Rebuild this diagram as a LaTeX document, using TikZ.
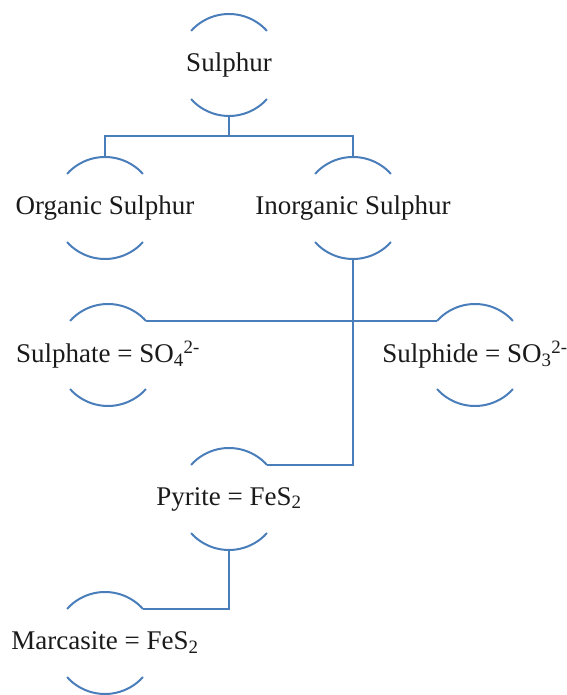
\documentclass[tikz,border=0pt]{standalone}
\usepackage{fontspec}
\setmainfont{Liberation Serif}
\usetikzlibrary{calc}
\definecolor{sulink}{HTML}{4A7EBB}
\definecolor{sutext}{HTML}{1A1A1A}

\begin{document}
\begin{tikzpicture}[
  x=1pt, y=1pt,
  font=\fontsize{27}{31}\selectfont,
  label/.style={text=sutext, inner sep=0pt, anchor=center},
  ring/.style={draw=sulink, line width=2pt},
  link/.style={draw=sulink, line width=2pt}]

%% Lienzo fijo del mismo tamaño que la referencia (en puntos).
\useasboundingbox (0,0) rectangle (566,695);

%% ---- nodos ----
\node[label] (sulphur)   at (229,630) {Sulphur};
\node[label] (organic)   at (105,487) {Organic Sulphur};
\node[label] (inorganic) at (353,487) {Inorganic Sulphur};
\node[label] (sulphate)  at (108,340) {Sulphate = SO\textsubscript{4}\textsuperscript{2-}};
\node[label] (sulphide)  at (475,340) {Sulphide = SO\textsubscript{3}\textsuperscript{2-}};
\node[label] (pyrite)    at (229,196) {Pyrite = FeS\textsubscript{2}};
\node[label] (marcasite) at (105,52)  {Marcasite = FeS\textsubscript{2}};

%% ---- arcos arriba y abajo de cada texto (radio 51) ----
\foreach \n in {sulphur,organic,inorganic,sulphate,sulphide,pyrite,marcasite} {
  \draw[ring] ($(\n)+(42:51)$) arc[start angle=42, end angle=138, radius=51];
  \draw[ring] ($(\n)+(222:51)$) arc[start angle=222, end angle=318, radius=51];
}

%% ---- conectores ----
\draw[link] ($(sulphur)+(0,-51)$) -- ++(0,-20) -| ($(organic)+(0,51)$);
\draw[link] ($(sulphur)+(0,-51)$) -- ++(0,-20) -| ($(inorganic)+(0,51)$);
\draw[link] ($(sulphate)+(42:51)$) -- ($(sulphide)+(138:51)$);
\draw[link] ($(inorganic)+(0,-51)$) |- ($(pyrite)+(42:51)$);
\draw[link] ($(pyrite)+(0,-51)$) |- ($(marcasite)+(42:51)$);

\end{tikzpicture}
\end{document}
